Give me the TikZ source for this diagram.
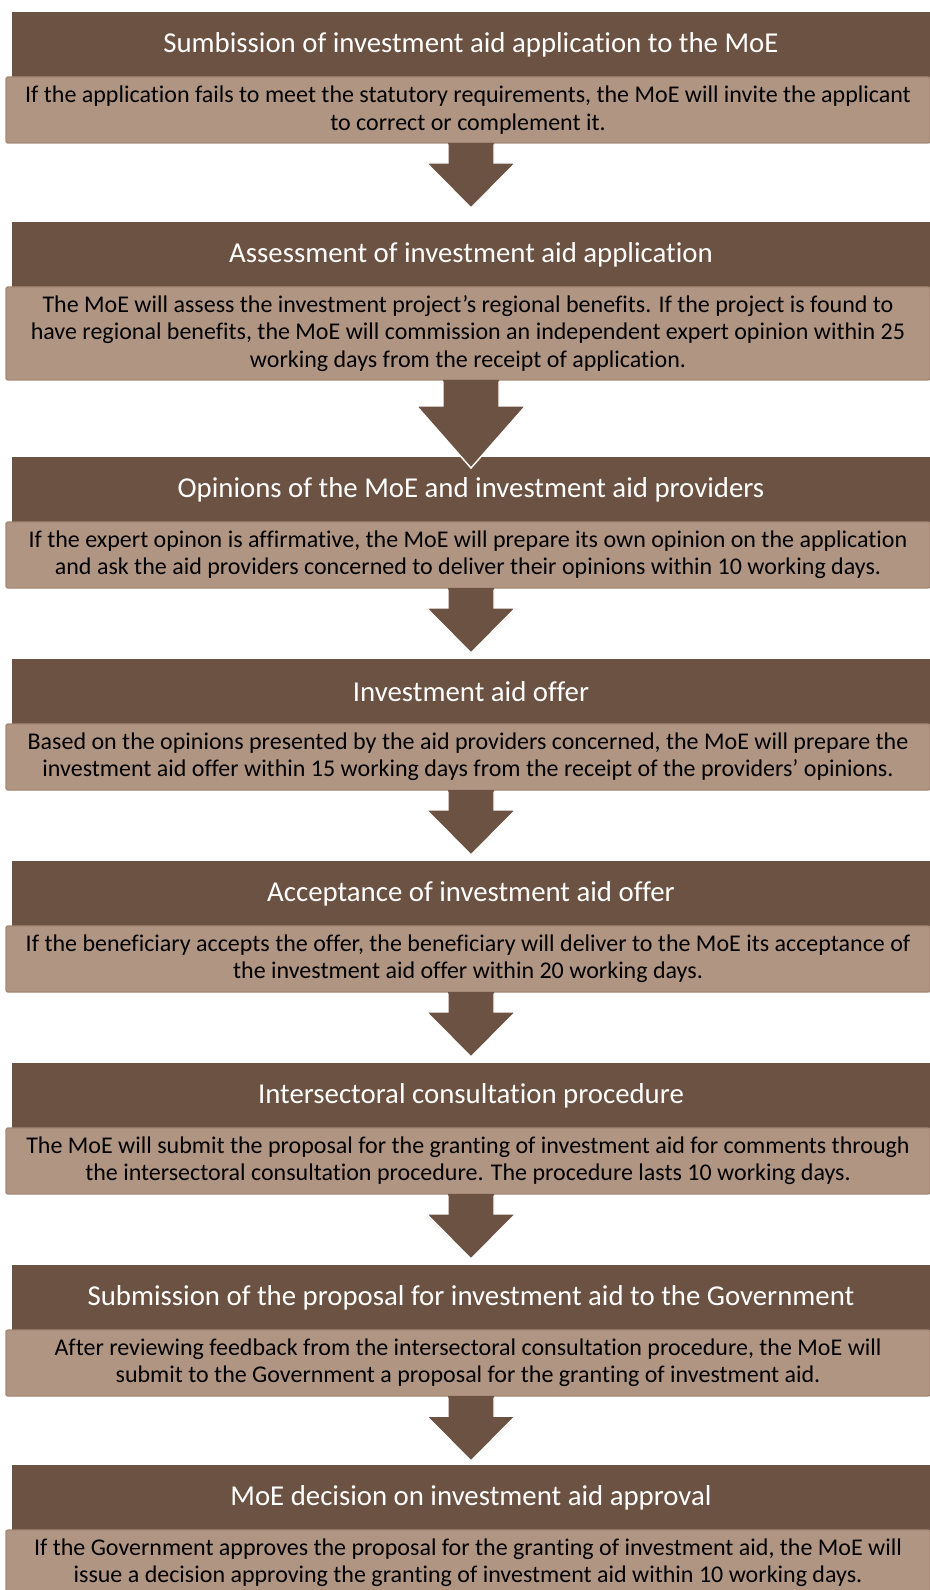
\documentclass[tikz,border=0pt]{standalone}
\usepackage{fontspec}
\setmainfont{Carlito}[Ligatures=NoCommon]
\usetikzlibrary{calc,positioning}
\definecolor{headbrown}{HTML}{6B5243}
\definecolor{textbrown}{HTML}{B09583}
\definecolor{edgebrown}{HTML}{A48874}
\tikzset{
  stagehead/.style={fill=headbrown, text=white, minimum width=688.5pt, minimum height=48.75pt,
    inner sep=0, outer sep=0, font=\fontsize{21.6}{24}\selectfont},
  stagetext/.style={fill=textbrown, draw=edgebrown, line width=1pt, rounded corners=1.5pt,
    minimum width=693pt, minimum height=49.5pt, inner sep=0, outer sep=0, align=center,
    font=\fontsize{18}{20.5}\selectfont},
}
% block arrow: from, to, half shaft, half head, neck, length
\newcommand{\stagearrow}[6]{%
  \coordinate (top) at (#2.center |- #1.south);
  \fill[headbrown] ($(top)+(-#3,0)$) -- ($(top)+(-#3,#5)$) -- ($(top)+(-#4,#5)$) -- ($(top)+(0,#6)$)
    -- ($(top)+(#4,#5)$) -- ($(top)+(#3,#5)$) -- ($(top)+(#3,0)$) -- cycle;
  \draw[white, line width=1.1pt] ($(top)+(-#3,1.5)$) -- ($(top)+(-#3,#5)$) -- ($(top)+(-#4,#5)$)
    -- ($(top)+(0,#6)$) -- ($(top)+(#4,#5)$) -- ($(top)+(#3,#5)$) -- ($(top)+(#3,1.5)$);
}
\begin{document}
\begin{tikzpicture}[x=0.75pt, y=-0.75pt]
\useasboundingbox (0,0) rectangle (930,1590);

\node[stagehead] (h1) at (471,44.5) {Sumbission of investment aid application to the MoE};
\node[stagetext, below=0pt of h1, xshift=-2.25pt] (d1) {If the application fails to meet the statutory requirements, the MoE will invite the applicant\\to correct or complement it.};

\node[stagehead] (h2) at (471,254.5) {Assessment of investment aid application};
\node[stagetext, below=0pt of h2, xshift=-2.25pt, minimum height=69.75pt] (d2) {The MoE will assess the investment project's regional benefits. If the project is found to\\have regional benefits, the MoE will commission an independent expert opinion within 25\\working days from the receipt of application.};

\node[stagehead] (h3) at (471,489.5) {Opinions of the MoE and investment aid providers};
\node[stagetext, below=0pt of h3, xshift=-2.25pt] (d3) {If the expert opinon is affirmative, the MoE will prepare its own opinion on the application\\and ask the aid providers concerned to deliver their opinions within 10 working days.};

\node[stagehead] (h4) at (471,691.5) {Investment aid offer};
\node[stagetext, below=0pt of h4, xshift=-2.25pt] (d4) {Based on the opinions presented by the aid providers concerned, the MoE will prepare the\\investment aid offer within 15 working days from the receipt of the providers' opinions.};

\node[stagehead] (h5) at (471,893.5) {Acceptance of investment aid offer};
\node[stagetext, below=0pt of h5, xshift=-2.25pt] (d5) {If the beneficiary accepts the offer, the beneficiary will deliver to the MoE its acceptance of\\the investment aid offer within 20 working days.};

\node[stagehead] (h6) at (471,1095.5) {Intersectoral consultation procedure};
\node[stagetext, below=0pt of h6, xshift=-2.25pt] (d6) {The MoE will submit the proposal for the granting of investment aid for comments through\\the intersectoral consultation procedure. The procedure lasts 10 working days.};

\node[stagehead] (h7) at (471,1297.5) {Submission of the proposal for investment aid to the Government};
\node[stagetext, below=0pt of h7, xshift=-2.25pt] (d7) {After reviewing feedback from the intersectoral consultation procedure, the MoE will\\submit to the Government a proposal for the granting of investment aid.};

\node[stagehead] (h8) at (471,1497.5) {MoE decision on investment aid approval};
\node[stagetext, below=0pt of h8, xshift=-2.25pt] (d8) {If the Government approves the proposal for the granting of investment aid, the MoE will\\issue a decision approving the granting of investment aid within 10 working days.};

\stagearrow{d1}{h2}{23}{44.5}{20}{65}
\stagearrow{d2}{h3}{28}{54.5}{26}{88}
\stagearrow{d3}{h4}{23}{44.5}{20}{65}
\stagearrow{d4}{h5}{23}{44.5}{20}{65}
\stagearrow{d5}{h6}{23}{44.5}{20}{65}
\stagearrow{d6}{h7}{23}{44.5}{20}{65}
\stagearrow{d7}{h8}{23}{44.5}{20}{65}

\end{tikzpicture}
\end{document}
